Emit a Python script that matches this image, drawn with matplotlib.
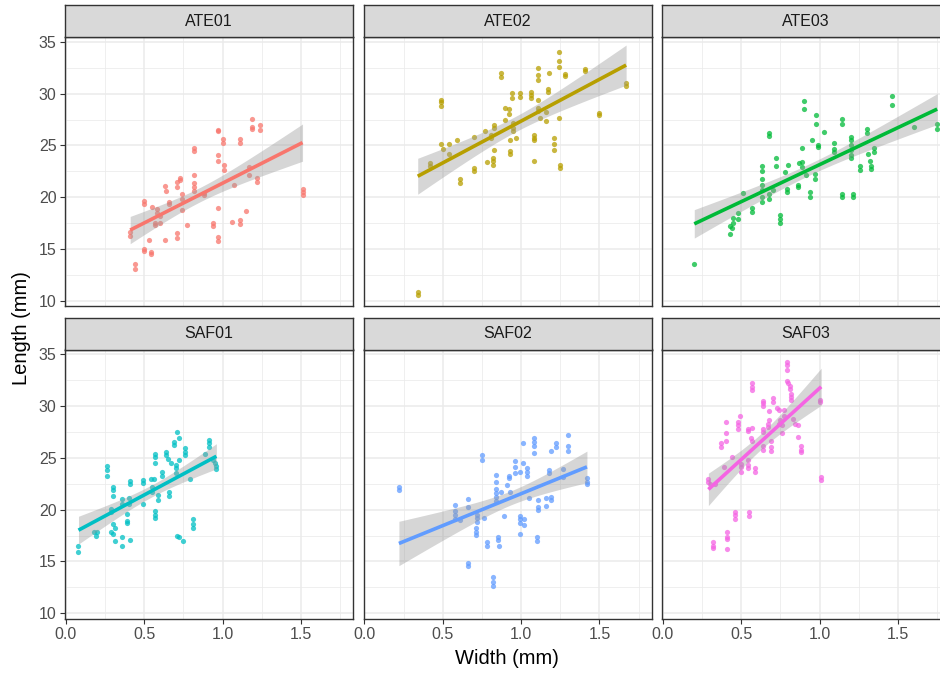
import numpy as np
import matplotlib.pyplot as plt

plt.rcParams['font.family'] = ['Liberation Sans', 'DejaVu Sans']

# ---- data (width mm, length mm) ----
sites = ["ATE01", "ATE02", "ATE03", "SAF01", "SAF02", "SAF03"]
colors = ["#F8766D", "#B79F00", "#00BA38", "#00BFC4", "#619CFF", "#F564E3"]

ate01_x = [1.19, 1.19, 1.19, 1.24, 1.24, 0.97, 0.97, 1.00, 1.00, 1.11, 1.11,
           0.82, 0.82, 0.97, 0.97, 1.01, 1.01, 1.17, 1.17, 1.22, 1.22, 1.07,
           1.51, 1.51, 1.51, 0.82, 0.82, 0.82, 0.82, 0.88, 0.88, 0.73, 0.73, 0.71, 0.71,
           0.74, 0.74, 0.74, 0.63, 0.64, 0.66, 0.66, 0.50, 0.50, 0.55, 0.58, 0.58,
           0.60, 0.60, 0.57, 0.57, 0.77, 0.97, 0.94, 0.94, 1.06, 1.11, 1.11, 1.15,
           0.41, 0.41, 0.53, 0.63, 0.71, 0.71, 0.97, 0.97, 0.50, 0.50, 0.54, 0.54,
           0.44, 0.44]
ate01_y = [27.6, 26.8, 26.6, 27.0, 26.5, 26.5, 26.4, 25.6, 25.2, 25.6, 25.2,
           24.8, 24.5, 24.1, 23.5, 23.1, 22.6, 22.9, 22.1, 21.9, 21.5, 21.2,
           20.8, 20.5, 20.2, 22.1, 21.4, 21.0, 20.6, 20.4, 20.2, 21.9, 21.7, 21.5, 21.0,
           20.3, 19.8, 18.8, 21.1, 20.6, 19.5, 19.3, 19.6, 19.3, 19.1, 18.9, 18.5,
           18.2, 17.5, 17.5, 17.3, 17.3, 19.0, 17.5, 17.2, 17.6, 17.8, 17.4, 18.7,
           16.6, 16.3, 15.9, 15.9, 16.5, 16.1, 16.2, 15.8, 15.0, 14.8, 14.7, 14.5,
           13.5, 13.1]

ate02_x = [0.34, 0.34, 0.42, 0.42, 0.49, 0.49, 0.49, 0.49, 0.50, 0.54, 0.54, 0.59,
           0.61, 0.61, 0.70, 0.70, 0.70, 0.77, 0.78, 0.81, 0.81, 0.83, 0.82, 0.82,
           0.82, 0.83, 0.83, 0.87, 0.87, 0.90, 0.90, 0.92, 0.92, 0.93, 0.93, 0.93,
           0.94, 0.94, 0.95, 0.95, 0.95, 0.97, 0.99, 0.99, 1.06, 1.06, 1.06, 1.08,
           1.08, 1.08, 1.08, 1.11, 1.11, 1.11, 1.11, 1.11, 1.11, 1.12, 1.16, 1.16,
           1.17, 1.17, 1.18, 1.21, 1.21, 1.21, 1.24, 1.24, 1.24, 1.24, 1.25, 1.25,
           1.28, 1.28, 1.41, 1.41, 1.50, 1.50, 1.67, 1.67]
ate02_y = [10.8, 10.6, 23.3, 23.0, 29.4, 29.2, 28.8, 25.1, 24.7, 25.1, 24.2, 25.5,
           21.8, 21.4, 25.8, 22.8, 22.5, 26.4, 23.4, 26.0, 25.7, 24.6, 23.8, 23.5,
           23.1, 27.0, 26.7, 32.0, 31.6, 28.6, 27.5, 28.5, 28.0, 25.5, 24.5, 24.2,
           30.1, 29.6, 27.2, 26.7, 26.4, 25.7, 30.1, 29.7, 30.2, 29.9, 29.6, 26.0,
           25.7, 25.5, 23.5, 32.5, 31.8, 31.3, 29.4, 28.6, 28.3, 27.7, 28.2, 27.4,
           30.5, 30.2, 32.0, 25.7, 25.1, 24.6, 27.7, 34.0, 33.2, 32.6, 23.1, 22.8,
           31.9, 31.7, 32.4, 32.2, 28.1, 27.9, 31.0, 30.7]

ate03_x = [0.20, 0.43, 0.43, 0.44, 0.45, 0.45, 0.48, 0.48, 0.51, 0.57, 0.57,
           0.63, 0.63, 0.63, 0.63, 0.63, 0.63, 0.63, 0.68, 0.68, 0.68, 0.68, 0.70,
           0.72, 0.72, 0.75, 0.75, 0.75, 0.78, 0.79, 0.79, 0.80, 0.86, 0.86, 0.87,
           0.90, 0.90, 0.89, 0.89, 0.89, 0.91, 0.94, 0.94, 0.95, 0.97, 0.97, 0.98,
           0.98, 0.99, 0.99, 1.03, 1.09, 1.09, 1.09, 1.14, 1.14, 1.14, 1.14, 1.20,
           1.20, 1.20, 1.20, 1.20, 1.20, 1.21, 1.21, 1.26, 1.26, 1.30, 1.30, 1.31,
           1.32, 1.33, 1.33, 1.35, 1.35, 1.46, 1.46, 1.60, 1.75, 1.75]
ate03_y = [13.5, 16.4, 17.2, 17.0, 18.0, 17.5, 18.5, 17.9, 20.4, 19.0, 18.6,
           23.0, 22.5, 21.8, 21.2, 20.7, 20.0, 19.5, 26.2, 25.9, 20.3, 19.8, 20.7,
           23.8, 23.0, 18.3, 17.9, 17.5, 22.4, 20.8, 20.5, 23.1, 21.2, 21.0, 23.3,
           29.3, 28.5, 24.8, 23.4, 22.9, 22.1, 20.5, 20.0, 25.5, 22.2, 21.8, 27.9,
           27.1, 25.0, 24.9, 26.3, 25.2, 24.7, 24.4, 27.6, 27.1, 20.3, 20.0, 25.8,
           25.5, 25.0, 24.6, 24.1, 23.8, 20.3, 20.0, 23.0, 22.6, 26.6, 26.2, 24.2,
           23.5, 23.0, 22.7, 24.8, 24.4, 29.8, 28.9, 26.8, 27.1, 26.6]

saf01_x = [0.08, 0.08, 0.18, 0.19, 0.20, 0.26, 0.26, 0.26, 0.29, 0.29, 0.29,
           0.30, 0.31, 0.30, 0.31, 0.30, 0.30, 0.30, 0.36, 0.36, 0.36, 0.36, 0.39,
           0.39, 0.39, 0.40, 0.40, 0.41, 0.41, 0.41, 0.49, 0.49, 0.49, 0.54, 0.56,
           0.55, 0.55, 0.57, 0.57, 0.57, 0.57, 0.57, 0.57, 0.59, 0.59, 0.61, 0.61,
           0.64, 0.64, 0.65, 0.66, 0.66, 0.67, 0.69, 0.69, 0.70, 0.70, 0.70, 0.71,
           0.72, 0.71, 0.72, 0.75, 0.72, 0.76, 0.76, 0.76, 0.79, 0.81, 0.81, 0.81,
           0.91, 0.91, 0.91, 0.89, 0.94, 0.95, 0.96, 0.96]
saf01_y = [16.5, 15.9, 17.8, 17.5, 17.8, 24.2, 23.8, 23.3, 20.1, 19.8, 17.8,
           17.7, 17.0, 18.6, 18.2, 22.2, 21.9, 21.3, 21.0, 20.6, 17.4, 16.5, 19.6,
           18.9, 18.7, 21.1, 20.6, 22.8, 22.5, 17.1, 22.9, 22.6, 20.6, 23.0, 23.0,
           22.2, 21.7, 25.4, 25.1, 24.5, 19.9, 19.5, 19.2, 21.4, 20.9, 23.6, 23.3,
           25.6, 25.3, 24.9, 21.7, 21.3, 24.5, 26.5, 26.3, 24.3, 24.0, 23.5, 27.5,
           26.9, 17.5, 17.4, 17.0, 24.8, 26.0, 25.6, 25.3, 23.0, 19.1, 18.6, 18.2,
           26.7, 26.4, 26.1, 25.4, 24.8, 24.5, 24.2, 23.9]

saf02_x = [0.22, 0.22, 0.58, 0.58, 0.58, 0.58, 0.61, 0.66, 0.66, 0.66, 0.66,
           0.72, 0.72, 0.72, 0.71, 0.71, 0.71, 0.75, 0.75, 0.76, 0.78, 0.78, 0.82,
           0.82, 0.82, 0.84, 0.84, 0.84, 0.84, 0.84, 0.84, 0.85, 0.85, 0.86, 0.87,
           0.89, 0.91, 0.92, 0.92, 0.93, 0.96, 0.96, 0.96, 0.99, 0.99, 0.99, 0.99,
           0.99, 1.01, 1.01, 1.02, 1.02, 1.04, 1.04, 1.04, 1.05, 1.08, 1.08, 1.08,
           1.08, 1.10, 1.10, 1.11, 1.11, 1.11, 1.16, 1.16, 1.18, 1.18, 1.19, 1.19,
           1.19, 1.22, 1.22, 1.27, 1.27, 1.30, 1.30, 1.30, 1.42, 1.42, 1.42]
saf02_y = [22.2, 21.9, 20.5, 19.9, 19.5, 19.1, 19.0, 21.0, 20.3, 14.9, 14.6,
           19.5, 19.2, 18.8, 18.2, 17.8, 17.6, 25.3, 24.8, 19.2, 16.9, 16.5, 13.5,
           13.0, 12.6, 23.4, 22.7, 22.0, 21.6, 21.2, 20.8, 17.4, 17.1, 16.5, 21.7,
           19.4, 22.4, 23.3, 23.1, 21.7, 24.7, 24.1, 23.5, 23.6, 19.4, 19.1, 18.7,
           17.7, 26.4, 24.5, 19.1, 18.5, 24.0, 23.6, 23.3, 21.1, 26.9, 26.5, 26.2,
           25.5, 17.4, 17.0, 20.9, 20.3, 20.0, 21.1, 20.4, 23.8, 23.5, 21.2, 20.9,
           25.7, 26.4, 26.1, 23.9, 23.2, 27.2, 26.2, 25.7, 23.1, 22.7, 22.5]

saf03_x = [0.29, 0.29, 0.30, 0.32, 0.32, 0.32, 0.33, 0.37, 0.37, 0.40, 0.40,
           0.40, 0.39, 0.41, 0.41, 0.41, 0.41, 0.44, 0.46, 0.46, 0.46, 0.48, 0.48,
           0.48, 0.49, 0.50, 0.50, 0.50, 0.54, 0.54, 0.54, 0.54, 0.54, 0.55, 0.55,
           0.56, 0.57, 0.57, 0.57, 0.57, 0.57, 0.59, 0.59, 0.64, 0.64, 0.64, 0.64,
           0.64, 0.64, 0.64, 0.67, 0.67, 0.68, 0.68, 0.69, 0.69, 0.69, 0.70, 0.70,
           0.73, 0.74, 0.75, 0.76, 0.74, 0.76, 0.77, 0.77, 0.79, 0.79, 0.79, 0.79,
           0.80, 0.81, 0.81, 0.82, 0.82, 0.82, 0.83, 0.84, 0.86, 0.86, 0.88, 0.88,
           0.88, 1.00, 1.00, 1.01, 1.01]
saf03_y = [23.0, 22.7, 22.5, 16.9, 16.5, 16.3, 22.5, 26.4, 26.1, 28.5, 27.4,
           26.6, 24.1, 17.8, 17.4, 17.2, 16.2, 25.1, 19.8, 19.5, 19.1, 28.5, 28.2,
           27.8, 29.1, 24.4, 24.1, 23.6, 27.8, 27.6, 24.8, 24.3, 24.0, 19.8, 19.4,
           26.9, 32.2, 31.9, 31.6, 27.9, 26.6, 24.0, 23.6, 30.5, 30.3, 30.0, 27.8,
           27.5, 26.2, 25.8, 28.3, 28.0, 29.5, 28.7, 26.6, 26.1, 25.7, 30.8, 30.4,
           29.8, 29.6, 28.7, 27.4, 28.3, 28.2, 29.6, 29.1, 34.3, 34.0, 33.5, 32.4,
           32.2, 32.0, 31.7, 31.2, 30.9, 30.6, 28.8, 28.3, 28.2, 27.0, 26.2, 25.8,
           25.6, 30.6, 30.4, 23.2, 22.9]

site_x = [ate01_x, ate02_x, ate03_x, saf01_x, saf02_x, saf03_x]
site_y = [ate01_y, ate02_y, ate03_y, saf01_y, saf02_y, saf03_y]

x_ticks = [0.0, 0.5, 1.0, 1.5]
x_minor = [0.25, 0.75, 1.25, 1.75]
y_ticks = [10, 15, 20, 25, 30, 35]
y_minor = [12.5, 17.5, 22.5, 27.5, 32.5]


def lm_band(x, y, t=1.99, n_out=80):
    # same as geom_smooth(method="lm"): fit + 95% CI of the mean
    x = np.asarray(x, float)
    y = np.asarray(y, float)
    n = len(x)
    b1, b0 = np.polyfit(x, y, 1)
    resid = y - (b0 + b1 * x)
    s = np.sqrt(np.sum(resid ** 2) / (n - 2))
    xm = x.mean()
    sxx = np.sum((x - xm) ** 2)
    xs = np.linspace(x.min(), x.max(), n_out)
    fit = b0 + b1 * xs
    se = s * np.sqrt(1.0 / n + (xs - xm) ** 2 / sxx)
    return xs, fit, fit - t * se, fit + t * se


W, H = 940, 674
fig = plt.figure(figsize=(W / 100, H / 100), dpi=100)

col_left = [65, 363.5, 662]
panel_w = 288
row_top = [37, 349.5]
panel_h = 269
strip_h = 32

for i, site in enumerate(sites):
    r, c = divmod(i, 3)
    left, top = col_left[c], row_top[r]
    ax = fig.add_axes([left / W, (H - top - panel_h) / H, panel_w / W, panel_h / H])
    sax = fig.add_axes([left / W, (H - top) / H, panel_w / W, strip_h / H])

    # strip
    sax.set_facecolor("#D9D9D9")
    sax.set_xticks([])
    sax.set_yticks([])
    for sp in sax.spines.values():
        sp.set_color("#333333")
        sp.set_linewidth(1.0)
    sax.text(0.5, 0.5, site, ha="center", va="center", fontsize=11.5,
             color="#1A1A1A", transform=sax.transAxes)

    # panel
    ax.set_facecolor("white")
    ax.set_xlim(-0.006, 1.832)
    ax.set_ylim(9.49, 35.48)
    ax.set_xticks(x_ticks)
    ax.set_xticks(x_minor, minor=True)
    ax.set_yticks(y_ticks)
    ax.set_yticks(y_minor, minor=True)
    ax.grid(which="major", color="#EBEBEB", linewidth=1.1)
    ax.grid(which="minor", color="#EBEBEB", linewidth=0.55)
    ax.set_axisbelow(True)
    for sp in ax.spines.values():
        sp.set_color("#333333")
        sp.set_linewidth(1.0)
    ax.tick_params(which="minor", length=0)
    ax.tick_params(which="major", length=3.5, width=0.8, color="#333333",
                   labelsize=11.5, labelcolor="#4D4D4D", pad=2.5)
    ax.set_xticklabels(["0.0", "0.5", "1.0", "1.5"])
    ax.set_yticklabels([str(v) for v in y_ticks])
    if c != 0:
        ax.tick_params(axis="y", left=False, labelleft=False)
    if r != 1:
        ax.tick_params(axis="x", bottom=False, labelbottom=False)

    xs, fit, lo, hi = lm_band(site_x[i], site_y[i])
    ax.scatter(site_x[i], site_y[i], s=14, color=colors[i], alpha=0.75,
               linewidths=0, zorder=2)
    ax.fill_between(xs, lo, hi, color="#999999", alpha=0.4, linewidth=0, zorder=3)
    ax.plot(xs, fit, color=colors[i], linewidth=2.6, zorder=4,
            solid_capstyle="butt")

fig.text(507 / W, 1 - 659 / H, "Width (mm)", ha="center", va="center", fontsize=14.5)
fig.text(22 / W, 1 - 328 / H, "Length (mm)", ha="center", va="center",
         rotation=90, fontsize=14.5)

fig.savefig("out.png", dpi=100)
